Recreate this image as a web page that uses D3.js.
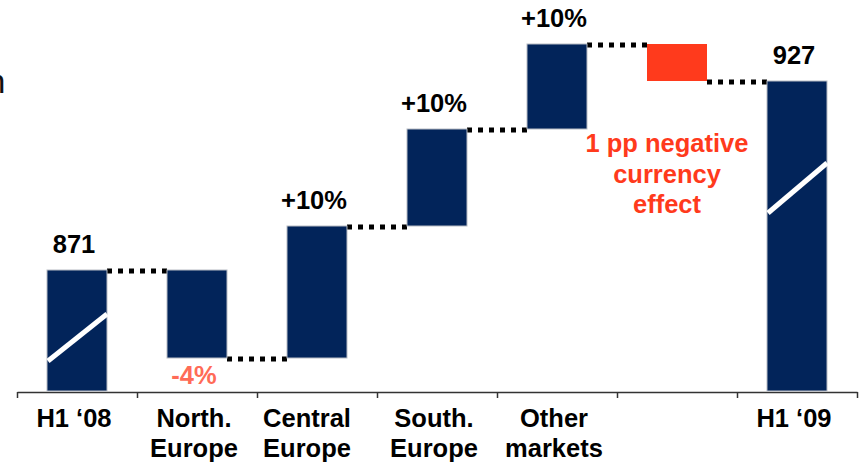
<!DOCTYPE html>
<html>
<head>
<meta charset="utf-8">
<script src="https://cdn.jsdelivr.net/npm/d3@7"></script>
<style>
  body { margin: 0; background: #fff; }
  svg { display: block; font-family: "Liberation Sans", Arial, sans-serif; }
</style>
</head>
<body>
<div class="canvas"></div>
<script>
// Data (schematic bar heights read off the picture, not to scale with 871/927)

const categories = ["H1 \u201808", "North.|Europe", "Central|Europe", "South.|Europe", "Other|markets", "", "H1 \u201809"];
const kinds = ["total", "delta", "delta", "delta", "delta", "delta", "total"];
const steps = [121, -88, 132, 97, 85, -37, 310];
const barLabels = ["871", "-4%", "+10%", "+10%", "+10%", "", "927"];
const noteLines = ["1 pp negative", "currency", "effect"];
// white axis-break strokes on the total bars: [category index, level at left, level at right]
const breaks = [[0, 30, 77], [6, 178, 228]];

// Set dimensions

const width = 859;
const height = 462;
const fontSize = "25.5px";

const x = d3.scaleBand()
    .domain(d3.range(categories.length))
    .range([17, 857])
    .paddingInner(0.5)
    .paddingOuter(0.25);

const y = d3.scaleLinear()
    .domain([0, 350])
    .range([391, 41]);

const navy = "#02245a";
const red = "#ff3a1c";

const svg = d3.select(".canvas")
    .append("svg")
        .attr("width", width)
        .attr("height", height);

// build waterfall rows
let level = 0;
const rows = steps.map((v, i) => {
    let start, end;
    if (kinds[i] === "total") { start = 0; end = v; level = v; }
    else { start = level; end = level + v; level = end; }
    return { i, start, end, value: v, kind: kinds[i] };
});

// axis with ticks on band boundaries
const axisY = 392;
const axisScale = d3.scaleLinear().domain([0, categories.length]).range([17, 857]);

svg.append("g")
    .attr("transform", `translate(0,${axisY})`)
    .call(d3.axisBottom(axisScale)
        .tickValues(d3.range(categories.length + 1))
        .tickSize(6)
        .tickSizeOuter(0)
        .tickFormat(""))
    .call(g => g.selectAll("path, line").attr("stroke", "#333").attr("stroke-width", 1.5));

// connectors
svg.selectAll(".conn")
    .data(rows.slice(0, -1))
    .join("line")
        .attr("x1", d => x(d.i) + x.bandwidth())
        .attr("x2", d => x(d.i + 1))
        .attr("y1", d => y(d.end) + 1)
        .attr("y2", d => y(d.end) + 1)
        .attr("stroke", "#000")
        .attr("stroke-width", 5)
        .attr("stroke-dasharray", "5,6");

// bars
svg.selectAll(".bar")
    .data(rows)
    .join("rect")
        .attr("x", d => x(d.i))
        .attr("width", x.bandwidth())
        .attr("y", d => y(Math.max(d.start, d.end)))
        .attr("height", d => Math.abs(y(d.start) - y(d.end)))
        .attr("fill", d => d.i === 5 ? red : navy)
        .attr("stroke", d => d.i === 5 ? "none" : "#b8bcc4")
        .attr("stroke-width", 1);

// break marks
svg.selectAll(".brk")
    .data(breaks)
    .join("line")
        .attr("x1", d => x(d[0]) + 1)
        .attr("x2", d => x(d[0]) + x.bandwidth())
        .attr("y1", d => y(d[1]))
        .attr("y2", d => y(d[2]))
        .attr("stroke", "#fff")
        .attr("stroke-width", 5);

// value labels
svg.selectAll(".val")
    .data(rows.filter(d => barLabels[d.i] !== ""))
    .join("text")
        .attr("x", d => x(d.i) + x.bandwidth() / 2 - 3)
        .attr("y", d => d.value < 0 ? y(d.end) + 26 : y(d.end) - 17)
        .attr("text-anchor", "middle")
        .style("font-size", fontSize)
        .style("font-weight", "bold")
        .attr("fill", d => d.value < 0 ? "#ff6b57" : "#000")
        .text(d => barLabels[d.i]);

// currency note
const note = rows[5];
svg.append("text")
    .attr("text-anchor", "middle")
    .style("font-size", fontSize)
    .style("font-weight", "bold")
    .attr("fill", red)
    .selectAll("tspan")
    .data(noteLines)
    .join("tspan")
        .attr("x", x(note.i) + x.bandwidth() / 2 - 10)
        .attr("y", (d, k) => y(note.end) + 71 + k * 30.5)
        .text(d => d);

// category labels
svg.selectAll(".cat")
    .data(categories)
    .join("text")
        .attr("text-anchor", "middle")
        .style("font-size", fontSize)
        .style("font-weight", "bold")
        .attr("fill", "#000")
    .selectAll("tspan")
    .data((d, i) => d.split("|").map(s => ({ s, i })))
    .join("tspan")
        .attr("x", d => x(d.i) + x.bandwidth() / 2 - (d.i === 2 ? 10 : 3))
        .attr("y", (d, k) => 427 + k * 30)
        .text(d => d.s);

// clipped letter at the left edge
svg.append("text")
    .attr("x", 5.5)
    .attr("y", 93)
    .attr("text-anchor", "end")
    .style("font-size", "34px")
    .attr("fill", "#111")
    .text("n");
</script>
</body>
</html>
